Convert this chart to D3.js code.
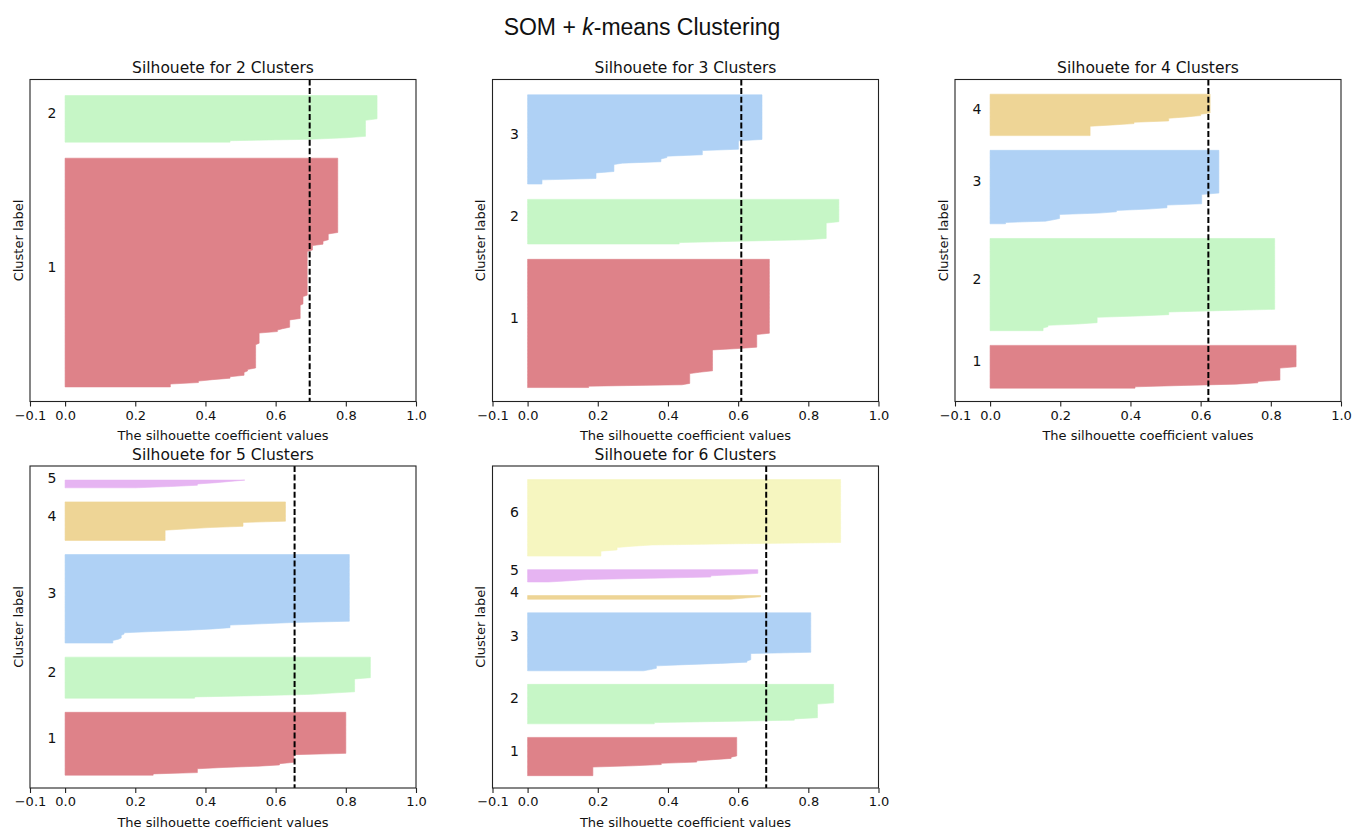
<!DOCTYPE html>
<html>
<head>
<meta charset="utf-8">
<script src="https://d3js.org/d3.v7.min.js"></script>
<style>
  body { margin: 0; background: #fff; }
  text { font-family: "DejaVu Sans", sans-serif; fill: #111; }
</style>
</head>
<body>
<div id="chart"></div>
<script>

// number of clusters in each panel
var clusterCounts = [2, 3, 4, 5, 6];
// average silhouette score (dashed line)
var avgScores = [0.697, 0.609, 0.622, 0.654, 0.680];
var nSamples = 191;

// sorted silhouette values per cluster, as runs of [count, value], lowest first
var sil2 = [
  [[3,0.30],[2,0.38],[1,0.42],[2,0.47],[3,0.51],[2,0.52],[17,0.543],[8,0.553],[2,0.605],[1,0.62],[6,0.64],[10,0.67],[6,0.678],[31,0.69],[4,0.705],[3,0.735],[5,0.75],[52,0.777]],
  [[2,0.47],[1,0.70],[1,0.80],[12,0.856],[17,0.889]]
];
var sil3 = [
  [[2,0.174],[1,0.44],[8,0.462],[1,0.49],[16,0.527],[1,0.60],[10,0.653],[54,0.689]],
  [[2,0.432],[1,0.60],[1,0.79],[12,0.851],[17,0.887]],
  [[4,0.041],[5,0.195],[6,0.246],[1,0.27],[3,0.38],[2,0.397],[4,0.498],[7,0.601],[33,0.668]]
];
var sil4 = [
  [[2,0.413],[1,0.55],[1,0.70],[2,0.763],[10,0.826],[17,0.872]],
  [[3,0.151],[2,0.165],[1,0.25],[5,0.305],[1,0.42],[3,0.509],[1,0.65],[54,0.811]],
  [[2,0.044],[1,0.158],[1,0.18],[4,0.198],[1,0.31],[2,0.36],[1,0.45],[3,0.504],[8,0.603],[33,0.652]],
  [[8,0.285],[1,0.35],[2,0.41],[3,0.509],[1,0.56],[2,0.60],[15,0.627]]
];
var sil5 = [
  [[2,0.251],[4,0.377],[1,0.45],[1,0.55],[2,0.611],[7,0.652],[33,0.80]],
  [[2,0.369],[1,0.55],[1,0.70],[1,0.76],[11,0.825],[17,0.87]],
  [[3,0.136],[1,0.152],[3,0.16],[2,0.168],[1,0.25],[1,0.35],[1,0.42],[3,0.47],[1,0.56],[1,0.65],[53,0.81]],
  [[9,0.285],[1,0.35],[1,0.41],[4,0.507],[16,0.628]],
  [[1,0.20],[1,0.30],[2,0.377],[1,0.43],[1,0.47],[1,0.512]]
];
var sil6 = [
  [[8,0.186],[1,0.30],[2,0.381],[2,0.482],[1,0.53],[2,0.58],[16,0.596]],
  [[2,0.361],[1,0.56],[2,0.76],[12,0.826],[16,0.872]],
  [[1,0.33],[1,0.35],[3,0.367],[1,0.45],[1,0.55],[2,0.625],[6,0.636],[33,0.807]],
  [[1,0.58],[1,0.62],[2,0.664]],
  [[1,0.06],[1,0.12],[1,0.17],[1,0.35],[2,0.522],[1,0.60],[4,0.656]],
  [[5,0.209],[3,0.255],[1,0.30],[1,0.354],[1,0.60],[52,0.892]]
];
var panelData = [sil2, sil3, sil4, sil5, sil6];

var xTicks = [-0.1, 0.0, 0.2, 0.4, 0.6, 0.8, 1.0];
var clusterColors = ["#de8289", "#c6f6c6", "#afd1f5", "#eed596", "#e6b4f2", "#f6f6c0"];

// layout of the panels (axes boxes)
var panelW = 386, panelH = 322;
var panelPos = [
  {x: 30, y: 79.5}, {x: 492.5, y: 79.5}, {x: 955, y: 79.5},
  {x: 30, y: 466}, {x: 492.5, y: 466}
];

var svg = d3.select("#chart").append("svg")
  .attr("width", 1362)
  .attr("height", 828);

// figure title
var title = svg.append("text")
  .attr("x", 642)
  .attr("y", 35)
  .attr("text-anchor", "middle")
  .style("font-family", "'Liberation Sans', Arial, sans-serif")
  .style("font-size", "23px");
title.append("tspan").text("SOM + ");
title.append("tspan").style("font-style", "italic").text("k");
title.append("tspan").text("-means Clustering");

function expand(runs) {
  var vals = [];
  runs.forEach(function(r) { for (var i = 0; i < r[0]; i++) vals.push(r[1]); });
  return vals;
}

panelData.forEach(function(clusters, p) {
  var k = clusterCounts[p];
  var pos = panelPos[p];
  var g = svg.append("g").attr("transform", "translate(" + pos.x + "," + pos.y + ")");

  var x = d3.scaleLinear().domain([-0.1, 1.0]).range([0, panelW]);
  var y = d3.scaleLinear().domain([0, nSamples + (k + 1) * 10]).range([panelH, 0]);

  var yLower = 10;
  clusters.forEach(function(runs, c) {
    var vals = expand(runs);
    var area = d3.area()
      .y(function(d, i) { return y(yLower + i); })
      .x0(x(0))
      .x1(function(d) { return x(d); });
    g.append("path")
      .datum(vals)
      .attr("d", area)
      .attr("fill", clusterColors[c])
      .attr("stroke", clusterColors[c])
      .attr("stroke-width", 0.6);

    g.append("text")
      .attr("x", x(-0.05))
      .attr("y", y(yLower + 0.5 * vals.length))
      .style("font-size", "14px")
      .text(c + 1);

    yLower += vals.length + 10;
  });

  // average line
  g.append("line")
    .attr("x1", x(avgScores[p])).attr("x2", x(avgScores[p]))
    .attr("y1", 0).attr("y2", panelH)
    .attr("stroke", "#000")
    .attr("stroke-width", 2)
    .attr("stroke-dasharray", "6,2.6");

  // frame
  g.append("rect")
    .attr("width", panelW).attr("height", panelH)
    .attr("fill", "none")
    .attr("stroke", "#222")
    .attr("stroke-width", 1.1);

  // x axis
  var ax = g.append("g")
    .attr("transform", "translate(0," + panelH + ")")
    .call(d3.axisBottom(x).tickValues(xTicks).tickSize(5).tickPadding(4)
      .tickFormat(function(d) { return d3.format(".1f")(d).replace("-", "\u2212"); }));
  ax.select(".domain").remove();
  ax.selectAll(".tick line").attr("stroke", "#222").attr("stroke-width", 1.1);
  ax.selectAll(".tick text")
    .style("font-family", "'DejaVu Sans', sans-serif")
    .style("font-size", "13px")
    .attr("fill", "#111");

  g.append("text")
    .attr("x", panelW / 2)
    .attr("y", panelH + 38.5)
    .attr("text-anchor", "middle")
    .style("font-size", "13px")
    .text("The silhouette coefficient values");

  g.append("text")
    .attr("transform", "translate(-7.5," + (panelH / 2) + ") rotate(-90)")
    .attr("text-anchor", "middle")
    .style("font-size", "13px")
    .text("Cluster label");

  g.append("text")
    .attr("x", panelW / 2)
    .attr("y", -6.5)
    .attr("text-anchor", "middle")
    .style("font-size", "15.5px")
    .text("Silhouete for " + k + " Clusters");
});

</script>
</body>
</html>
